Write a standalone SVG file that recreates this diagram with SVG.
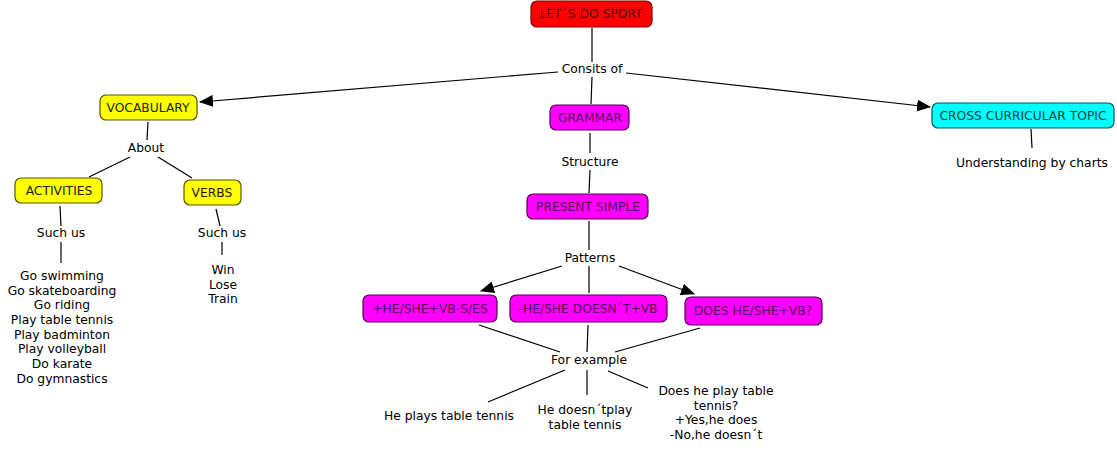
<svg xmlns="http://www.w3.org/2000/svg" width="1117" height="452" viewBox="0 0 1117 452">
<defs>
<marker id="arr" markerWidth="14" markerHeight="12" refX="13" refY="6" orient="auto" markerUnits="userSpaceOnUse">
<path d="M0,0 L14,6 L0,12 Z" fill="#000"/>
</marker>
<style>
text{font-family:"DejaVu Sans",Verdana,sans-serif;font-size:12.3px;text-anchor:middle;fill:#000}
.c line{stroke:#000;stroke-width:1.2}
.box{stroke-width:1.2}
.red rect{fill:#FF0000;stroke:#7a0000}
.red text{fill:#5a0000}
.yel rect{fill:#FFFF00;stroke:#555500}
.yel text{fill:#222200}
.mag rect{fill:#FF00FF;stroke:#550055}
.mag text{fill:#5a005a}
.cya rect{fill:#00FFFF;stroke:#005555}
.cya text{fill:#004040}
</style>
</defs>
<rect width="1117" height="452" fill="#fff"/>
<g class="c" id="connectors">
<line x1="592" y1="28" x2="592" y2="62"/>
<line x1="592" y1="77" x2="591" y2="104"/>
<line x1="558" y1="72" x2="200" y2="102" marker-end="url(#arr)"/>
<line x1="626" y1="73" x2="930" y2="107" marker-end="url(#arr)"/>
<line x1="590" y1="133" x2="590" y2="153"/>
<line x1="590" y1="170" x2="589" y2="193"/>
<line x1="589" y1="221" x2="589" y2="250"/>
<line x1="562" y1="266" x2="481" y2="291" marker-end="url(#arr)"/>
<line x1="589" y1="266" x2="589" y2="293"/>
<line x1="619" y1="266" x2="694" y2="294" marker-end="url(#arr)"/>
<line x1="479" y1="325" x2="560" y2="352"/>
<line x1="588" y1="325" x2="587" y2="352"/>
<line x1="700" y1="328" x2="615" y2="352"/>
<line x1="565" y1="370" x2="488" y2="402"/>
<line x1="587" y1="370" x2="587" y2="395"/>
<line x1="608" y1="371" x2="648" y2="388"/>
<line x1="148" y1="122" x2="147" y2="140"/>
<line x1="130" y1="157" x2="89" y2="177"/>
<line x1="158" y1="157" x2="192" y2="178"/>
<line x1="60" y1="206" x2="61" y2="226"/>
<line x1="61" y1="242" x2="61" y2="263"/>
<line x1="216" y1="209" x2="220" y2="226"/>
<line x1="222" y1="242" x2="222" y2="255"/>
<line x1="1031" y1="129" x2="1032" y2="148"/>
</g>
<g id="n-sport" class="red"><rect class="box" x="531" y="1" width="121" height="26" rx="6"/><text x="591" y="18">LET´S DO SPORT</text></g>
<g id="l-consits"><text x="592" y="73">Consits of</text></g>
<g id="n-vocab" class="yel"><rect class="box" x="100" y="95" width="97" height="25" rx="6"/><text x="148" y="112">VOCABULARY</text></g>
<g id="n-grammar" class="mag"><rect class="box" x="550" y="105" width="79" height="25" rx="6"/><text x="590" y="122">GRAMMAR</text></g>
<g id="n-cross" class="cya"><rect class="box" x="932" y="103" width="182" height="25" rx="6"/><text x="1023" y="120">CROSS CURRICULAR TOPIC</text></g>
<g id="l-understanding"><text x="1032" y="167">Understanding by charts</text></g>
<g id="l-structure"><text x="590" y="166">Structure</text></g>
<g id="n-present" class="mag"><rect class="box" x="527" y="194" width="121" height="25" rx="6"/><text x="588" y="211">PRESENT SIMPLE</text></g>
<g id="l-patterns"><text x="590" y="262">Patterns</text></g>
<g id="n-pos" class="mag"><rect class="box" x="363" y="295" width="134" height="27" rx="6"/><text x="430" y="313">+HE/SHE+VB-S/ES</text></g>
<g id="n-neg" class="mag"><rect class="box" x="510" y="295" width="157" height="27" rx="6"/><text x="588" y="313">-HE/SHE DOESN´T+VB</text></g>
<g id="n-q" class="mag"><rect class="box" x="685" y="297" width="137" height="28" rx="6"/><text x="753" y="315">DOES HE/SHE+VB?</text></g>
<g id="l-example"><text x="589" y="364">For example</text></g>
<g id="t-plays"><text x="449" y="420">He plays table tennis</text></g>
<g id="t-doesnt"><text x="585" y="414">He doesn´tplay</text><text x="585" y="429">table tennis</text></g>
<g id="t-does"><text x="716" y="395">Does he play table</text><text x="716" y="410">tennis?</text><text x="716" y="424">+Yes,he does</text><text x="716" y="439">-No,he doesn´t</text></g>
<g id="l-about"><text x="146" y="152">About</text></g>
<g id="n-activities" class="yel"><rect class="box" x="15" y="178" width="87" height="25" rx="6"/><text x="59" y="195">ACTIVITIES</text></g>
<g id="n-verbs" class="yel"><rect class="box" x="184" y="180" width="57" height="25" rx="6"/><text x="212" y="197">VERBS</text></g>
<g id="l-such1"><text x="61" y="237">Such us</text></g>
<g id="l-such2"><text x="222" y="237">Such us</text></g>
<g id="t-activities">
<text x="62" y="280">Go swimming</text>
<text x="62" y="295">Go skateboarding</text>
<text x="62" y="309">Go riding</text>
<text x="62" y="324">Play table tennis</text>
<text x="62" y="339">Play badminton</text>
<text x="62" y="353">Play volleyball</text>
<text x="62" y="368">Do karate</text>
<text x="62" y="383">Do gymnastics</text>
</g>
<g id="t-verbs">
<text x="223" y="274">Win</text>
<text x="223" y="289">Lose</text>
<text x="223" y="303">Train</text>
</g>
</svg>
